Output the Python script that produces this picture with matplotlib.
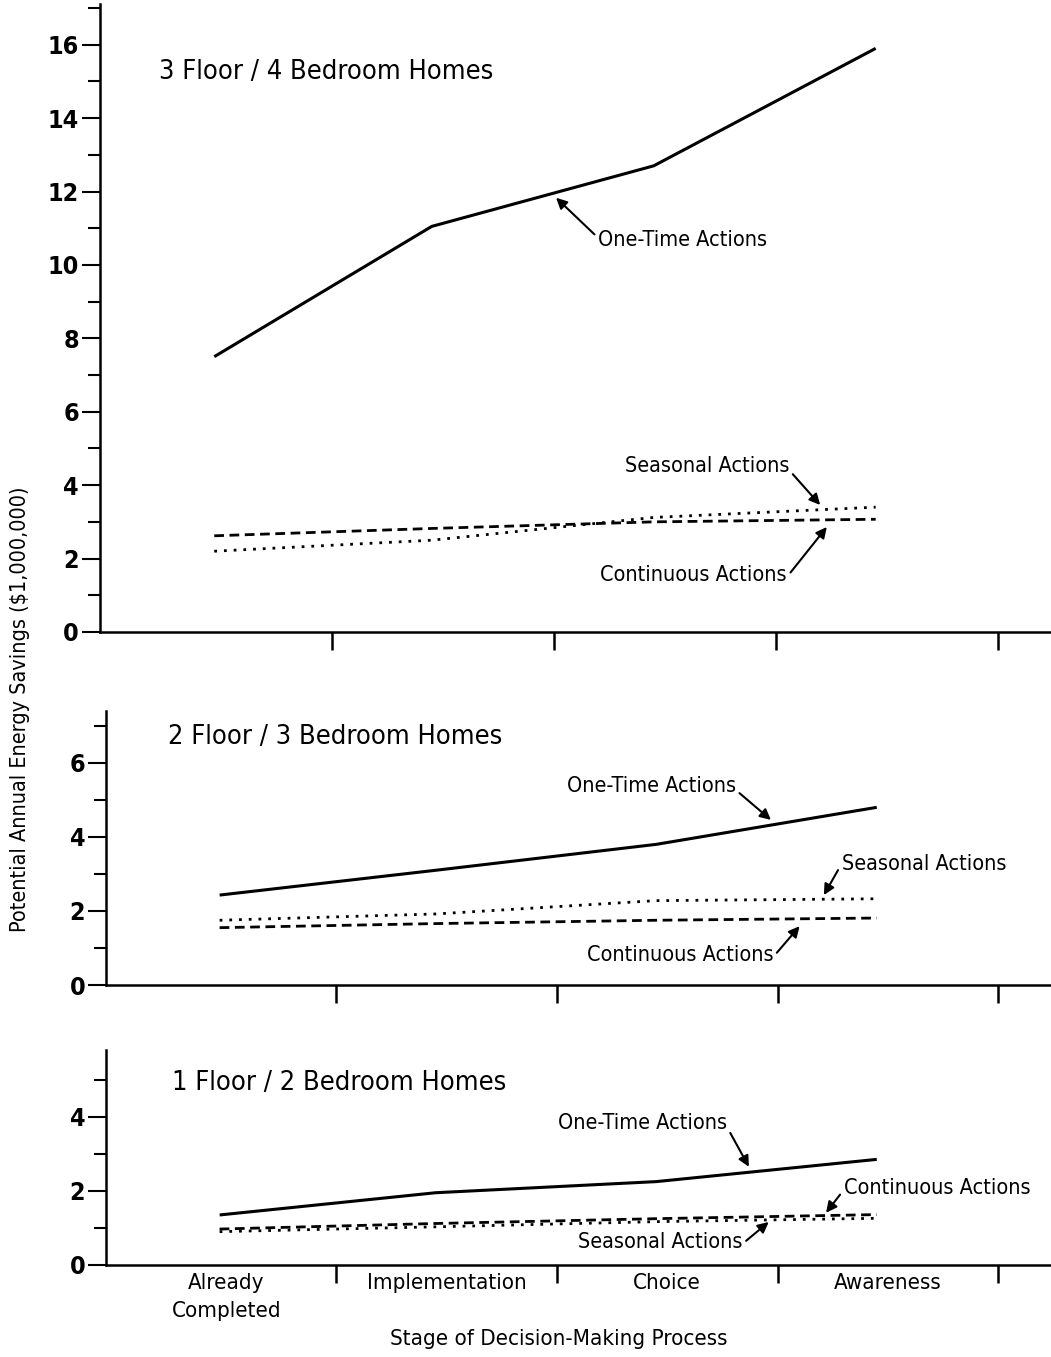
import numpy as np
import matplotlib
matplotlib.use("Agg")
import matplotlib.pyplot as plt
from matplotlib.ticker import MultipleLocator

plt.rcParams['font.family'] = ['DejaVu Sans']
plt.rcParams['font.stretch'] = 'condensed'

# ---- data ($ millions) ----
stages = ["Already\nCompleted", "Implementation", "Choice", "Awareness"]
stage_x = [0.47, 1.45, 2.45, 3.45]   # where the curves were plotted in each stage

titles = ["3 Floor / 4 Bedroom Homes", "2 Floor / 3 Bedroom Homes", "1 Floor / 2 Bedroom Homes"]

one_time_3f = [7.5, 11.05, 12.7, 15.9]
seasonal_3f = [2.2, 2.5, 3.12, 3.4]
continuous_3f = [2.62, 2.82, 3.0, 3.07]

one_time_2f = [2.43, 3.1, 3.8, 4.8]
seasonal_2f = [1.75, 1.92, 2.28, 2.33]
continuous_2f = [1.55, 1.66, 1.75, 1.81]

one_time_1f = [1.35, 1.95, 2.25, 2.85]
seasonal_1f = [0.9, 1.03, 1.17, 1.26]
continuous_1f = [0.97, 1.12, 1.25, 1.36]

y_max = [17.1, 7.4, 5.8]

# annotation placement per panel: (label, text xy, arrow tip xy, ha, arrow start on text)
notes = [
    [("One-Time Actions", (2.20, 10.68), (2.01, 11.83), "left", (0, 0.6)),
     ("Seasonal Actions", (3.06, 4.52), (3.20, 3.46), "right", (1, 0.3)),
     ("Continuous Actions", (3.05, 1.55), (3.23, 2.86), "right", (1, 0.4))],
    [("One-Time Actions", (2.81, 5.38), (2.97, 4.46), "right", (1, 0.3)),
     ("Seasonal Actions", (3.29, 3.27), (3.21, 2.43), "left", (0, 0.5)),
     ("Continuous Actions", (2.98, 0.81), (3.10, 1.59), "right", (1, 0.4))],
    [("One-Time Actions", (2.77, 3.84), (2.87, 2.65), "right", (1, 0.3)),
     ("Continuous Actions", (3.30, 2.08), (3.22, 1.41), "left", (0, 0.4)),
     ("Seasonal Actions", (2.84, 0.62), (2.96, 1.16), "right", (1, 0.4))],
]
title_xy = [(0.22, 15.26), (0.235, 6.7), (0.253, 4.92)]

series = [
    (one_time_3f, seasonal_3f, continuous_3f),
    (one_time_2f, seasonal_2f, continuous_2f),
    (one_time_1f, seasonal_1f, continuous_1f),
]

fig = plt.figure(figsize=(10.51, 13.57), dpi=100)
rects = [
    [0.0951, 0.5343, 0.9049, 0.4625],
    [0.1009, 0.2741, 0.8991, 0.2019],
    [0.1009, 0.0678, 0.8991, 0.1584],
]

for i, rect in enumerate(rects):
    ax = fig.add_axes(rect)
    one, sea, con = series[i]
    ax.plot(stage_x, one, color="black", lw=2.2, solid_capstyle="butt")
    ax.plot(stage_x, sea, color="black", lw=2.0, linestyle=(0, (1, 2.5)))
    ax.plot(stage_x, con, color="black", lw=2.0, linestyle=(0, (3.5, 2)))

    ax.set_xlim(-0.045, 4.24)
    ax.set_ylim(0, y_max[i])
    for s in ["top", "right"]:
        ax.spines[s].set_visible(False)
    for s in ["left", "bottom"]:
        ax.spines[s].set_linewidth(1.8)

    ax.yaxis.set_major_locator(MultipleLocator(2))
    ax.yaxis.set_minor_locator(MultipleLocator(1))
    ax.tick_params(axis="y", which="major", direction="out", length=13, width=1.5,
                   labelsize=18, pad=2)
    ax.tick_params(axis="y", which="minor", direction="out", length=9, width=1.5)
    for lab in ax.get_yticklabels():
        lab.set_fontweight("bold")

    ax.set_xticks([1, 2, 3, 4])
    ax.set_xticklabels([])
    ax.tick_params(axis="x", which="major", direction="out", length=13, width=1.8)
    if i == 2:
        ax.set_xticks([0.5, 1.5, 2.5, 3.5], minor=True)
        ax.set_xticklabels(stages, minor=True, fontsize=16, linespacing=1.5)
        ax.tick_params(axis="x", which="minor", length=0, pad=6)
        ax.set_xlabel("Stage of Decision-Making Process", fontsize=16)
        ax.xaxis.set_label_coords(0.479, -0.3)

    ax.text(title_xy[i][0], title_xy[i][1], titles[i], fontsize=19.5,
            ha="left", va="center")

    for label, txy, tip, ha, rp in notes[i]:
        ax.annotate(label, xy=tip, xytext=txy, fontsize=15.5, ha=ha, va="center",
                    arrowprops=dict(arrowstyle="-|>", color="black", lw=1.5,
                                    mutation_scale=16, shrinkA=1, shrinkB=0,
                                    relpos=rp))

fig.text(0.019, 0.477, "Potential Annual Energy Savings ($1,000,000)",
         rotation=90, fontsize=15.5, ha="center", va="center")

fig.savefig("out.png", dpi=100)
